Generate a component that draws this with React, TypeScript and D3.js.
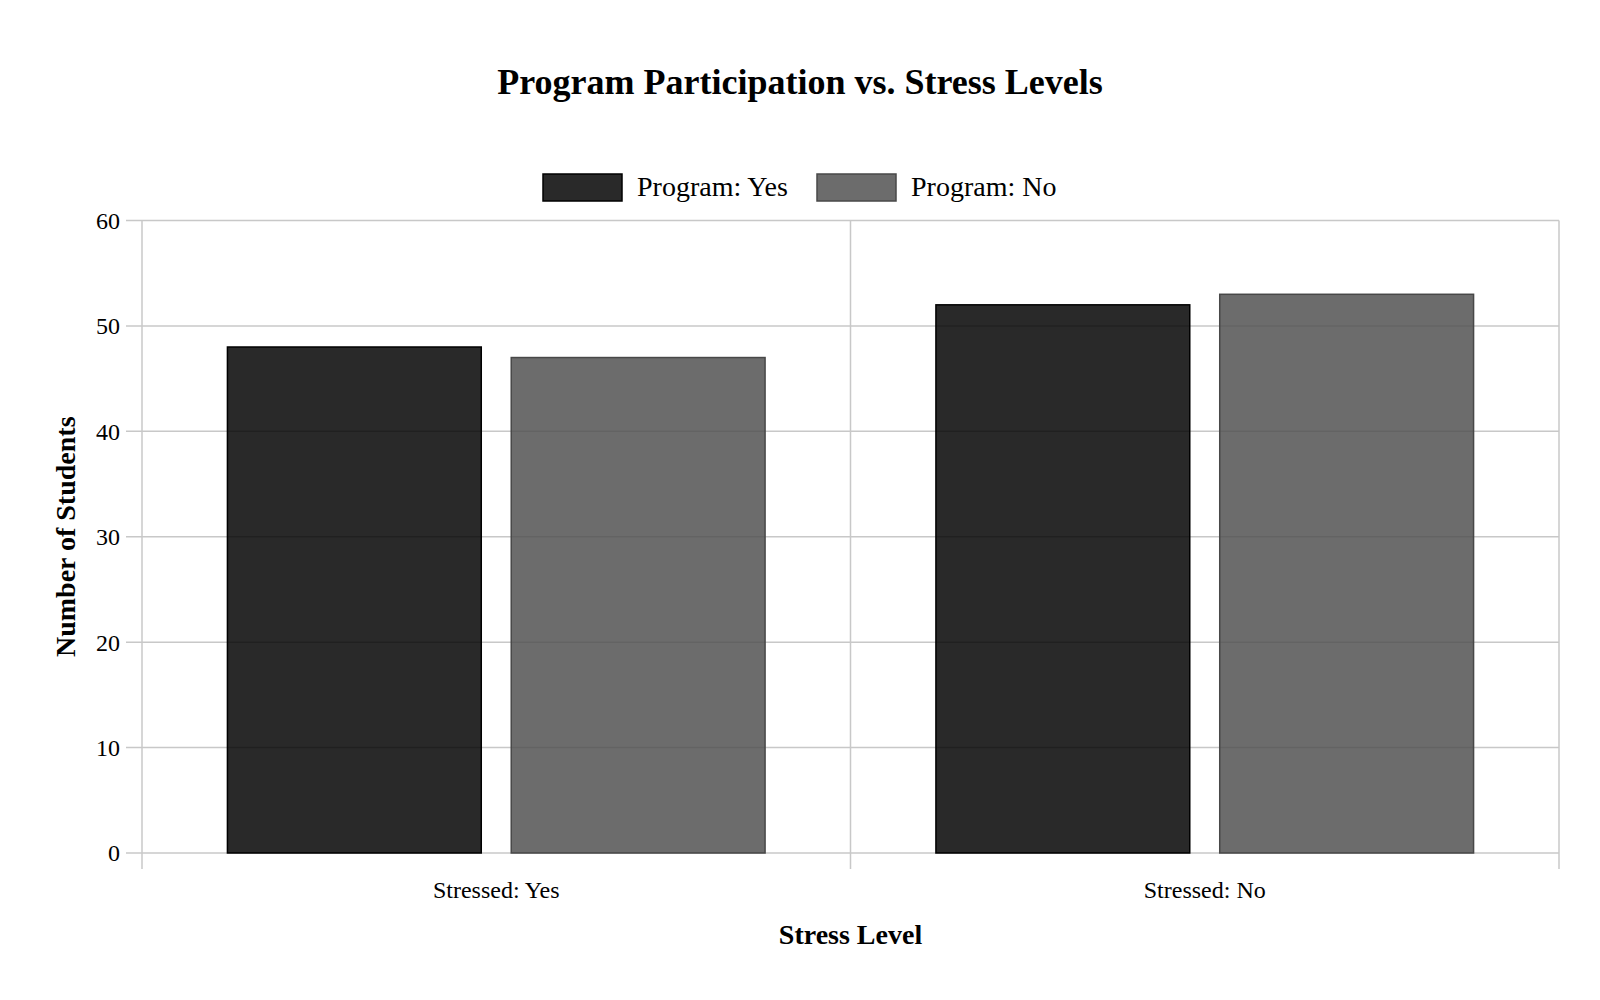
import React from "react";
import * as d3 from "d3";

const categories = ["Stressed: Yes", "Stressed: No"];
const seriesNames = ["Program: Yes", "Program: No"];
const programYes = [48, 52];
const programNo = [47, 53];
const yTicks = [0, 10, 20, 30, 40, 50, 60];
const seriesFill = ["#000000", "#505050"];
const seriesStroke = ["#000000", "#484848"];

const W = 1600;
const H = 1000;
const M = { left: 142, right: 1559, top: 220.5, bottom: 853 };
const FONT = "'Liberation Serif', 'Times New Roman', serif";

export default function App() {
  const x = d3.scaleBand<string>().domain(categories).range([M.left, M.right]).paddingInner(0).paddingOuter(0);
  const xi = d3
    .scaleBand<string>()
    .domain(seriesNames)
    .range([0, x.bandwidth()])
    .paddingInner(0.1056)
    .paddingOuter(0.301);
  const y = d3.scaleLinear().domain([0, 60]).range([M.bottom, M.top]);
  const series = [programYes, programNo];
  const boundaries = [M.left, ...categories.map((c) => (x(c) as number) + x.bandwidth())];

  const legendItems = [
    { x: 543, tx: 637 },
    { x: 817, tx: 911 },
  ];

  return (
    <svg width={W} height={H} style={{ position: "absolute", left: 0, top: 0, background: "#fff" }} fontFamily={FONT}>
      <rect x={0} y={0} width={W} height={H} fill="#fff" />
      <text x={800} y={94} textAnchor="middle" fontSize={36} fontWeight="bold" fill="#000">
        Program Participation vs. Stress Levels
      </text>
      {/* legend */}
      {seriesNames.map((s, i) => (
        <g key={s}>
          <rect
            x={legendItems[i].x}
            y={174}
            width={79}
            height={27}
            fill={seriesFill[i]}
            fillOpacity={0.84}
            stroke={seriesStroke[i]}
            strokeWidth={1.5}
          />
          <text x={legendItems[i].tx} y={196} fontSize={28} fill="#000">
            {s}
          </text>
        </g>
      ))}
      {/* grid */}
      {yTicks.map((t) => (
        <line key={"gy" + t} x1={M.left - 16} x2={M.right} y1={y(t)} y2={y(t)} stroke="#c8c8c8" strokeWidth={1.5} />
      ))}
      {boundaries.map((b, i) => (
        <line key={"gx" + i} x1={b} x2={b} y1={M.top} y2={M.bottom + 16} stroke="#c8c8c8" strokeWidth={1.5} />
      ))}
      {/* bars */}
      {categories.map((c, ci) =>
        seriesNames.map((s, si) => (
          <rect
            key={c + s}
            x={(x(c) as number) + (xi(s) as number)}
            y={y(series[si][ci])}
            width={xi.bandwidth()}
            height={y(0) - y(series[si][ci])}
            fill={seriesFill[si]}
            fillOpacity={0.84}
            stroke={seriesStroke[si]}
            strokeWidth={1.5}
          />
        ))
      )}
      {/* y tick labels */}
      {yTicks.map((t) => (
        <text key={"ty" + t} x={120} y={y(t)} dy="0.35em" textAnchor="end" fontSize={24} fill="#000">
          {t}
        </text>
      ))}
      {/* x tick labels */}
      {categories.map((c) => (
        <text key={"tx" + c} x={(x(c) as number) + x.bandwidth() / 2} y={898} textAnchor="middle" fontSize={24} fill="#000">
          {c}
        </text>
      ))}
      <text x={(M.left + M.right) / 2} y={944} textAnchor="middle" fontSize={28} fontWeight="bold" fill="#000">
        Stress Level
      </text>
      <text
        transform={`translate(${75},${(M.top + M.bottom) / 2}) rotate(-90)`}
        textAnchor="middle"
        fontSize={28}
        fontWeight="bold"
        fill="#000"
      >
        Number of Students
      </text>
    </svg>
  );
}
